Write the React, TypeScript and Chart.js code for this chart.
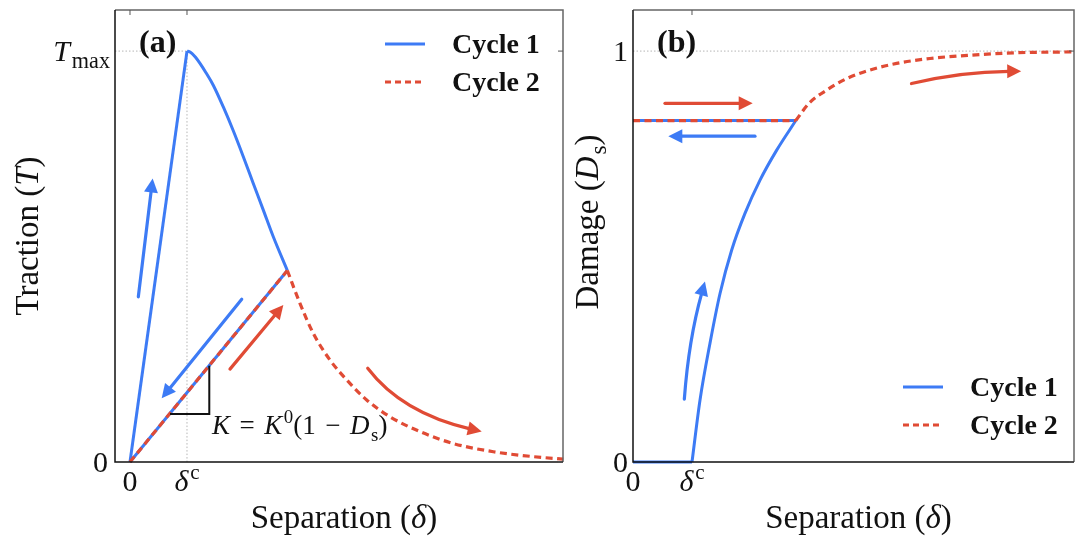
import React, { useEffect, useRef } from 'react';
import { Chart, registerables } from 'chart.js';

Chart.register(...registerables);

const BLUE = '#3d7bf5';
const RED = '#e04b35';
const FONT = '"Liberation Serif", "DejaVu Serif", serif';

// ---------- (a) traction vs separation ----------
const tsLoadX = [0, 1];
const tsLoadY = [0, 1];
const tsSoftX = [1.0, 1.04, 1.09, 1.15, 1.228, 1.33, 1.461, 1.637, 1.812, 1.988, 2.163, 2.339, 2.514, 2.76];
const tsSoftY = [1.0, 0.9985, 0.994, 0.985, 0.97, 0.948, 0.917, 0.864, 0.806, 0.743, 0.678, 0.613, 0.548, 0.466];
const tsUnloadX = [2.76, 0];
const tsUnloadY = [0.466, 0];
const tsReloadX = [0, 2.76];
const tsReloadY = [0, 0.466];
const tsDecayX = [2.76, 2.982, 3.216, 3.509, 3.801, 4.152, 4.561, 5.088, 5.672, 6.374, 7.076, 7.6];
const tsDecayY = [0.466, 0.386, 0.313, 0.248, 0.2, 0.151, 0.11, 0.074, 0.045, 0.025, 0.013, 0.007];
const tsXTickVals = [0, 1];
const tsXTickLabels = ['0', '*δ*^{c}'];
const tsYTickVals = [0, 1];
const tsYTickLabels = ['0', '*T*_{max}'];
const tsArrowColors = [BLUE, BLUE, RED, RED];
const tsArrowPaths = [
  [[0.146, 0.402], [0.398, 0.69]],
  [[1.96, 0.396], [0.556, 0.155]],
  [[1.754, 0.226], [2.69, 0.382]],
  [[4.17, 0.228], [4.97, 0.135], [6.17, 0.074]],
];
const tsSlopeTriangle = [[0.702, 0.117], [1.391, 0.117], [1.391, 0.234]];
const tsSlopeLabel = '*K* = *K*^{0}(1 − *D*_{s})';
const tsSlopeLabelAt = [1.44, 0.068];

// ---------- (b) damage vs separation ----------
const dmgFlatX = [0, 1];
const dmgFlatY = [0, 0];
const dmgGrowX = [1.0, 1.136, 1.305, 1.475, 1.673, 1.898, 2.153, 2.436, 2.76];
const dmgGrowY = [0, 0.151, 0.289, 0.41, 0.516, 0.605, 0.686, 0.759, 0.831];
const dmgHoldX = [2.76, 0];
const dmgHoldY = [0.831, 0.831];
const dmgReloadX = [0, 2.76];
const dmgReloadY = [0.831, 0.831];
const dmgDecayX = [2.76, 2.983, 3.283, 3.622, 4.017, 4.469, 5.034, 5.712, 6.503, 7.463];
const dmgDecayY = [0.831, 0.873, 0.905, 0.933, 0.954, 0.97, 0.982, 0.99, 0.996, 0.998];
const dmgXTickVals = [0, 1];
const dmgXTickLabels = ['0', '*δ*^{c}'];
const dmgYTickVals = [0, 1];
const dmgYTickLabels = ['0', '1'];
const dmgArrowColors = [RED, BLUE, BLUE, RED];
const dmgArrowPaths = [
  [[0.542, 0.873], [2.029, 0.873]],
  [[2.068, 0.793], [0.599, 0.793]],
  [[0.87, 0.153], [0.995, 0.297], [1.22, 0.439]],
  [[4.72, 0.921], [5.6, 0.943], [6.58, 0.951]],
];

const legendLabels = ['Cycle 1', 'Cycle 2'];

type Seg = { text: string; italic: boolean; level: number };

function parseRich(s: string): Seg[] {
  const segs: Seg[] = [];
  let italic = false;
  let buf = '';
  const flush = () => {
    if (buf) segs.push({ text: buf, italic, level: 0 });
    buf = '';
  };
  let i = 0;
  while (i < s.length) {
    const c = s[i];
    if (c === '*') {
      flush();
      italic = !italic;
      i++;
      continue;
    }
    if ((c === '_' || c === '^') && s[i + 1] === '{') {
      flush();
      const end = s.indexOf('}', i);
      segs.push({ text: s.slice(i + 2, end), italic: false, level: c === '_' ? -1 : 1 });
      i = end + 1;
      continue;
    }
    buf += c;
    i++;
  }
  flush();
  return segs;
}

function drawRich(
  ctx: CanvasRenderingContext2D,
  src: string,
  x: number,
  y: number,
  size: number,
  align: 'left' | 'center' | 'right',
  subScale = 0.7,
  spaceScale = 1
) {
  const segs = parseRich(src);
  const fontFor = (s: Seg) => `${s.italic ? 'italic ' : ''}${s.level ? size * subScale : size}px ${FONT}`;
  const extraSpace = size * 0.25 * (spaceScale - 1);
  const widths = segs.map((s, i) => {
    ctx.font = fontFor(s);
    let w = ctx.measureText(s.text).width;
    const spaces = (s.text.match(/ /g) || []).length;
    w += spaces * extraSpace;
    if (s.italic && segs[i + 1] && !segs[i + 1].italic && segs[i + 1].level !== 0) w += size * 0.06;
    return w;
  });
  const total = widths.reduce((a, b) => a + b, 0);
  let cx = align === 'left' ? x : align === 'center' ? x - total / 2 : x - total;
  ctx.fillStyle = '#111';
  ctx.textBaseline = 'alphabetic';
  ctx.textAlign = 'left';
  segs.forEach((s, i) => {
    ctx.font = fontFor(s);
    const dy = s.level === -1 ? size * 0.24 : s.level === 1 ? -size * 0.4 : 0;
    if (extraSpace && s.text.includes(' ')) {
      // wider spacing around binary operators
      let px = cx;
      s.text.split(' ').forEach((part, k, arr) => {
        ctx.fillText(part, px, y + dy);
        px += ctx.measureText(part).width;
        if (k < arr.length - 1) px += ctx.measureText(' ').width + extraSpace;
      });
    } else {
      ctx.fillText(s.text, cx, y + dy);
    }
    cx += widths[i];
  });
}

function drawArrow(ctx: CanvasRenderingContext2D, pts: number[][], color: string) {
  const head = 14;
  const half = 7;
  const tail = pts[0];
  const tip = pts[pts.length - 1];
  let ctrl: number[] | null = null;
  let from = tail;
  if (pts.length === 3) {
    const m = pts[1];
    ctrl = [2 * m[0] - (tail[0] + tip[0]) / 2, 2 * m[1] - (tail[1] + tip[1]) / 2];
    from = ctrl;
  }
  const dx = tip[0] - from[0];
  const dy = tip[1] - from[1];
  const len = Math.hypot(dx, dy);
  const ux = dx / len;
  const uy = dy / len;
  const bx = tip[0] - ux * head;
  const by = tip[1] - uy * head;
  ctx.save();
  ctx.strokeStyle = color;
  ctx.fillStyle = color;
  ctx.lineWidth = 3.2;
  ctx.lineCap = 'round';
  ctx.setLineDash([]);
  ctx.beginPath();
  ctx.moveTo(tail[0], tail[1]);
  if (ctrl) ctx.quadraticCurveTo(ctrl[0], ctrl[1], bx + ux * 2, by + uy * 2);
  else ctx.lineTo(bx + ux * 2, by + uy * 2);
  ctx.stroke();
  ctx.beginPath();
  ctx.moveTo(tip[0], tip[1]);
  ctx.lineTo(bx - uy * half, by + ux * half);
  ctx.lineTo(bx + uy * half, by - ux * half);
  ctx.closePath();
  ctx.fill();
  ctx.restore();
}

type PanelSpec = {
  tag: string;
  width: number;
  padding: { left: number; right: number; top: number; bottom: number };
  xMin: number;
  xMax: number;
  yMax: number;
  datasets: any[];
  xTickVals: number[];
  xTickLabels: string[];
  yTickVals: number[];
  yTickLabels: string[];
  yTickRight: number[];
  yTitle: string;
  yTitleX: number;
  yTitleY: number;
  arrows: number[][][];
  arrowColors: string[];
  legendAt: [number, number];
  guides: (ctx: CanvasRenderingContext2D, px: (v: number) => number, py: (v: number) => number, area: any) => void;
  extra?: (ctx: CanvasRenderingContext2D, px: (v: number) => number, py: (v: number) => number) => void;
};

const zip = (xs: number[], ys: number[]) => xs.map((x, i) => ({ x, y: ys[i] }));

const solid = (label: string, xs: number[], ys: number[], curved: boolean) => ({
  label,
  data: zip(xs, ys),
  showLine: true,
  borderColor: BLUE,
  backgroundColor: BLUE,
  borderWidth: 3,
  borderJoinStyle: 'round',
  pointRadius: 0,
  cubicInterpolationMode: curved ? 'monotone' : 'default',
  clip: 5,
  order: 2,
});

const dashed = (label: string, xs: number[], ys: number[], curved: boolean) => ({
  label,
  data: zip(xs, ys),
  showLine: true,
  borderColor: RED,
  backgroundColor: RED,
  borderWidth: 3.2,
  borderDash: [7, 4.5],
  borderCapStyle: 'butt',
  pointRadius: 0,
  cubicInterpolationMode: curved ? 'monotone' : 'default',
  clip: 5,
  order: 1,
});

const dotted = (ctx: CanvasRenderingContext2D, x1: number, y1: number, x2: number, y2: number) => {
  ctx.save();
  ctx.strokeStyle = '#b5b5b5';
  ctx.lineWidth = 1;
  ctx.setLineDash([1.5, 2]);
  ctx.beginPath();
  ctx.moveTo(x1, y1);
  ctx.lineTo(x2, y2);
  ctx.stroke();
  ctx.restore();
};

const panelA: PanelSpec = {
  tag: '(a)',
  width: 570,
  padding: { left: 115, right: 7, top: 10, bottom: 78 },
  xMin: -0.263,
  xMax: 7.596,
  yMax: 1.1,
  datasets: [
    dashed('Cycle 2', tsReloadX, tsReloadY, false),
    dashed('Cycle 2', tsDecayX, tsDecayY, true),
    solid('Cycle 1', tsLoadX, tsLoadY, false),
    solid('Cycle 1', tsSoftX, tsSoftY, true),
    solid('Cycle 1', tsUnloadX, tsUnloadY, false),
  ],
  xTickVals: tsXTickVals,
  xTickLabels: tsXTickLabels,
  yTickVals: tsYTickVals,
  yTickLabels: tsYTickLabels,
  yTickRight: [108, 110],
  yTitle: 'Traction (*T*)',
  yTitleX: 38,
  yTitleY: 236,
  arrows: tsArrowPaths,
  arrowColors: tsArrowColors,
  legendAt: [270, 34],
  guides: (ctx, px, py, area) => {
    dotted(ctx, px(tsXTickVals[1]), py(tsYTickVals[1]), px(tsXTickVals[1]), area.bottom);
    dotted(ctx, area.left, py(tsYTickVals[1]), px(tsXTickVals[1]), py(tsYTickVals[1]));
  },
  extra: (ctx, px, py) => {
    ctx.save();
    ctx.strokeStyle = '#111';
    ctx.lineWidth = 2;
    ctx.setLineDash([]);
    ctx.beginPath();
    tsSlopeTriangle.forEach(([x, y], i) => (i ? ctx.lineTo(px(x), py(y)) : ctx.moveTo(px(x), py(y))));
    ctx.stroke();
    ctx.restore();
    drawRich(ctx, tsSlopeLabel, px(tsSlopeLabelAt[0]), py(tsSlopeLabelAt[1]), 27, 'left', 0.7, 1.4);
  },
};

const panelB: PanelSpec = {
  tag: '(b)',
  width: 505,
  padding: { left: 63, right: 1, top: 10, bottom: 78 },
  xMin: 0,
  xMax: 7.475,
  yMax: 1.1,
  datasets: [
    dashed('Cycle 2', dmgReloadX, dmgReloadY, false),
    dashed('Cycle 2', dmgDecayX, dmgDecayY, true),
    solid('Cycle 1', dmgFlatX, dmgFlatY, false),
    solid('Cycle 1', dmgGrowX, dmgGrowY, true),
    solid('Cycle 1', dmgHoldX, dmgHoldY, false),
  ],
  xTickVals: dmgXTickVals,
  xTickLabels: dmgXTickLabels,
  yTickVals: dmgYTickVals,
  yTickLabels: dmgYTickLabels,
  yTickRight: [58, 58],
  yTitle: 'Damage (*D*_{s})',
  yTitleX: 28,
  yTitleY: 222,
  arrows: dmgArrowPaths,
  arrowColors: dmgArrowColors,
  legendAt: [270, 377],
  guides: (ctx, px, py, area) => {
    dotted(ctx, area.left, py(dmgYTickVals[1]), area.right, py(dmgYTickVals[1]));
  },
};

function makeDecor(spec: PanelSpec) {
  return {
    id: 'panelDecor',
    beforeDatasetsDraw(chart: any) {
      const { ctx, chartArea } = chart;
      const xs = chart.scales.x;
      const ys = chart.scales.y;
      spec.guides(ctx, (v) => xs.getPixelForValue(v), (v) => ys.getPixelForValue(v), chartArea);
    },
    afterDatasetsDraw(chart: any) {
      const { ctx, chartArea: a } = chart;
      const xs = chart.scales.x;
      const ys = chart.scales.y;
      const px = (v: number) => xs.getPixelForValue(v);
      const py = (v: number) => ys.getPixelForValue(v);
      ctx.save();
      ctx.setLineDash([]);
      // frame: dark left/bottom spines, lighter top/right
      ctx.lineWidth = 1.5;
      ctx.strokeStyle = '#666';
      ctx.beginPath();
      ctx.moveTo(a.left, a.top);
      ctx.lineTo(a.right, a.top);
      ctx.lineTo(a.right, a.bottom);
      ctx.stroke();
      ctx.strokeStyle = '#111';
      ctx.beginPath();
      ctx.moveTo(a.left, a.top);
      ctx.lineTo(a.left, a.bottom);
      ctx.lineTo(a.right, a.bottom);
      ctx.stroke();
      // inward ticks on the mirrored sides
      ctx.strokeStyle = '#555';
      ctx.lineWidth = 1;
      spec.xTickVals.forEach((v) => {
        ctx.beginPath();
        ctx.moveTo(px(v), a.top);
        ctx.lineTo(px(v), a.top + 5);
        ctx.stroke();
      });
      spec.yTickVals.forEach((v) => {
        ctx.beginPath();
        ctx.moveTo(a.right, py(v));
        ctx.lineTo(a.right - 5, py(v));
        ctx.stroke();
      });
      ctx.restore();

      ctx.save();
      // tick labels
      spec.xTickVals.forEach((v, i) => drawRich(ctx, spec.xTickLabels[i], px(v), a.bottom + 29, 30, 'center'));
      spec.yTickVals.forEach((v, i) =>
        drawRich(ctx, spec.yTickLabels[i], spec.yTickRight[i], py(v) + 10, 30, 'right', 0.74)
      );
      // axis titles
      drawRich(ctx, 'Separation (*δ*)', (a.left + a.right) / 2 + 5, a.bottom + 66, 33, 'center');
      ctx.save();
      ctx.translate(spec.yTitleX, spec.yTitleY);
      ctx.rotate(-Math.PI / 2);
      drawRich(ctx, spec.yTitle, 0, 0, 33, 'center');
      ctx.restore();
      // panel tag
      ctx.font = `bold 32px ${FONT}`;
      ctx.fillStyle = '#111';
      ctx.textAlign = 'left';
      ctx.textBaseline = 'alphabetic';
      ctx.fillText(spec.tag, a.left + 24, a.top + 42);
      // legend
      const [lx, ly] = spec.legendAt;
      [BLUE, RED].forEach((c, i) => {
        const y = a.top + ly + i * 38;
        ctx.save();
        ctx.strokeStyle = c;
        ctx.lineWidth = 3;
        ctx.setLineDash(i ? [6, 4] : []);
        ctx.beginPath();
        ctx.moveTo(a.left + lx, y);
        ctx.lineTo(a.left + lx + 40, y);
        ctx.stroke();
        ctx.restore();
        ctx.font = `bold 28px ${FONT}`;
        ctx.fillStyle = '#111';
        ctx.textAlign = 'left';
        ctx.fillText(legendLabels[i], a.left + lx + 67, y + 9);
      });
      // direction arrows
      spec.arrows.forEach((path, i) =>
        drawArrow(ctx, path.map(([x, y]) => [px(x), py(y)]), spec.arrowColors[i])
      );
      if (spec.extra) spec.extra(ctx, px, py);
      ctx.restore();
    },
  };
}

function Panel({ spec, left }: { spec: PanelSpec; left: number }) {
  const ref = useRef<HTMLCanvasElement>(null);
  useEffect(() => {
    if (!ref.current) return;
    const chart = new Chart(ref.current, {
      type: 'scatter',
      data: { datasets: spec.datasets },
      options: {
        responsive: false,
        animation: false,
        devicePixelRatio: 1,
        layout: { padding: spec.padding },
        plugins: { legend: { display: false }, tooltip: { enabled: false } },
        scales: {
          x: { type: 'linear', min: spec.xMin, max: spec.xMax, display: false },
          y: { type: 'linear', min: 0, max: spec.yMax, display: false },
        },
      },
      plugins: [makeDecor(spec)],
    } as any);
    return () => chart.destroy();
  }, [spec]);
  return (
    <canvas
      ref={ref}
      width={spec.width}
      height={540}
      style={{ position: 'absolute', left, top: 0, width: spec.width, height: 540 }}
    />
  );
}

export default function App() {
  return (
    <div style={{ position: 'absolute', left: 0, top: 0, width: 1075, height: 540, background: '#fff' }}>
      <Panel spec={panelA} left={0} />
      <Panel spec={panelB} left={570} />
    </div>
  );
}
